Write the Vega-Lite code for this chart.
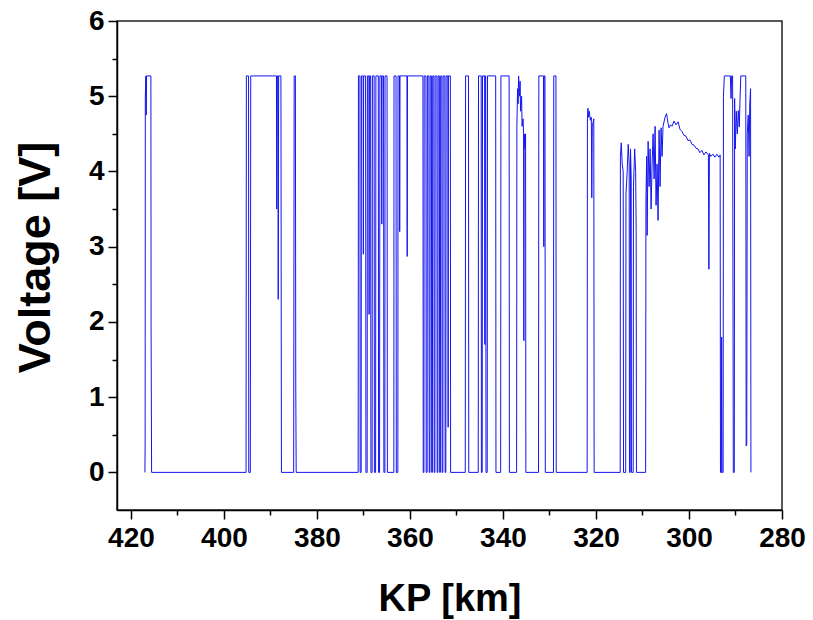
{
  "$schema": "https://vega.github.io/schema/vega-lite/v6.json",
  "width": 665,
  "height": 489,
  "autosize": {"type": "none"},
  "padding": {"left": 117, "top": 21, "right": 31, "bottom": 110},
  "background": "white",
  "view": {"stroke": "#222222", "strokeWidth": 1.5},
  "data": {"values": [
    {"i":1,"kp":417.00,"v":0},{"i":2,"kp":416.95,"v":0.35},{"i":3,"kp":416.91,"v":5.0},{"i":4,"kp":416.78,"v":5.27},{"i":5,"kp":416.72,"v":4.75},{"i":6,"kp":416.65,"v":5.27},{"i":7,"kp":415.71,"v":5.27},{"i":8,"kp":415.67,"v":1.93},{"i":9,"kp":415.56,"v":0},
    {"i":10,"kp":395.25,"v":0},{"i":11,"kp":395.18,"v":5.27},{"i":12,"kp":394.71,"v":5.27},{"i":13,"kp":394.67,"v":0},{"i":14,"kp":394.33,"v":0},{"i":15,"kp":394.24,"v":5.27},{"i":16,"kp":388.71,"v":5.27},{"i":17,"kp":388.65,"v":3.5},{"i":18,"kp":388.54,"v":5.27},{"i":19,"kp":388.39,"v":5.27},{"i":20,"kp":388.33,"v":2.3},{"i":21,"kp":388.24,"v":5.27},{"i":22,"kp":387.75,"v":5.27},{"i":23,"kp":387.64,"v":0},
    {"i":24,"kp":385.01,"v":0},{"i":25,"kp":384.90,"v":5.27},{"i":26,"kp":384.64,"v":5.27},{"i":27,"kp":384.56,"v":1.2},{"i":28,"kp":384.47,"v":0},
    {"i":29,"kp":371.14,"v":0},{"i":30,"kp":371.08,"v":5.27},{"i":31,"kp":370.76,"v":5.27},{"i":32,"kp":370.71,"v":0},{"i":33,"kp":370.50,"v":0},{"i":34,"kp":370.44,"v":5.27},{"i":35,"kp":370.07,"v":5.27},{"i":36,"kp":370.03,"v":2.9},{"i":37,"kp":369.96,"v":5.27},{"i":38,"kp":369.54,"v":5.27},{"i":39,"kp":369.47,"v":0},{"i":40,"kp":369.21,"v":0},{"i":41,"kp":369.15,"v":5.27},{"i":42,"kp":368.83,"v":5.27},{"i":43,"kp":368.79,"v":2.1},{"i":44,"kp":368.72,"v":5.27},{"i":45,"kp":368.46,"v":5.27},{"i":46,"kp":368.40,"v":0},{"i":47,"kp":368.14,"v":0},{"i":48,"kp":368.08,"v":5.27},{"i":49,"kp":367.71,"v":5.27},{"i":50,"kp":367.65,"v":0},{"i":51,"kp":367.39,"v":0},{"i":52,"kp":367.33,"v":5.27},{"i":53,"kp":366.81,"v":5.27},{"i":54,"kp":366.75,"v":0},{"i":55,"kp":366.54,"v":0},{"i":56,"kp":366.47,"v":5.27},{"i":57,"kp":366.11,"v":5.27},{"i":58,"kp":366.06,"v":3.3},{"i":59,"kp":366.00,"v":5.27},{"i":60,"kp":365.68,"v":5.27},{"i":61,"kp":365.61,"v":0},{"i":62,"kp":365.40,"v":0},{"i":63,"kp":365.36,"v":5.27},{"i":64,"kp":364.93,"v":5.27},{"i":65,"kp":364.86,"v":0},
    {"i":66,"kp":363.47,"v":0},{"i":67,"kp":363.43,"v":5.27},{"i":68,"kp":363.00,"v":5.27},{"i":69,"kp":362.94,"v":0},{"i":70,"kp":362.61,"v":0},{"i":71,"kp":362.57,"v":5.27},{"i":72,"kp":362.25,"v":5.27},{"i":73,"kp":362.21,"v":3.2},{"i":74,"kp":362.14,"v":5.27},{"i":75,"kp":360.64,"v":5.27},{"i":76,"kp":360.60,"v":2.87},{"i":77,"kp":360.54,"v":5.27},{"i":78,"kp":357.21,"v":5.27},{"i":79,"kp":357.15,"v":0},{"i":80,"kp":357.00,"v":0},
    {"i":81,"kp":356.94,"v":5.27},{"i":82,"kp":356.57,"v":5.27},{"i":83,"kp":356.51,"v":0},{"i":84,"kp":356.31,"v":0},{"i":85,"kp":356.25,"v":5.27},{"i":86,"kp":355.93,"v":5.27},{"i":87,"kp":355.86,"v":0},{"i":88,"kp":355.71,"v":0},{"i":89,"kp":355.65,"v":5.27},{"i":90,"kp":355.39,"v":5.27},{"i":91,"kp":355.33,"v":0},{"i":92,"kp":355.18,"v":0},{"i":93,"kp":355.11,"v":5.27},{"i":94,"kp":354.86,"v":5.27},{"i":95,"kp":354.79,"v":0},{"i":96,"kp":354.64,"v":0},{"i":97,"kp":354.58,"v":5.27},{"i":98,"kp":354.21,"v":5.27},{"i":99,"kp":354.15,"v":0},{"i":100,"kp":354.00,"v":0},{"i":101,"kp":353.94,"v":5.27},{"i":102,"kp":353.68,"v":5.27},{"i":103,"kp":353.61,"v":0},{"i":104,"kp":353.46,"v":0},{"i":105,"kp":353.40,"v":5.27},{"i":106,"kp":353.14,"v":5.27},{"i":107,"kp":353.08,"v":0},{"i":108,"kp":352.93,"v":0},{"i":109,"kp":352.86,"v":5.27},{"i":110,"kp":352.50,"v":5.27},{"i":111,"kp":352.44,"v":0},{"i":112,"kp":352.29,"v":0},{"i":113,"kp":352.22,"v":5.27},{"i":114,"kp":351.86,"v":5.27},{"i":115,"kp":351.79,"v":0.6},{"i":116,"kp":351.73,"v":5.27},{"i":117,"kp":351.32,"v":5.27},{"i":118,"kp":351.26,"v":0},
    {"i":119,"kp":348.11,"v":0},{"i":120,"kp":348.04,"v":5.27},{"i":121,"kp":347.42,"v":5.27},{"i":122,"kp":347.36,"v":0},{"i":123,"kp":345.32,"v":0},{"i":124,"kp":345.26,"v":5.27},{"i":125,"kp":344.68,"v":5.27},{"i":126,"kp":344.64,"v":0},{"i":127,"kp":344.47,"v":0},{"i":128,"kp":344.40,"v":5.27},{"i":129,"kp":343.93,"v":5.27},{"i":130,"kp":343.89,"v":1.7},{"i":131,"kp":343.82,"v":5.27},{"i":132,"kp":343.72,"v":5.27},{"i":133,"kp":343.65,"v":0},{"i":134,"kp":343.39,"v":0},{"i":135,"kp":343.33,"v":5.27},{"i":136,"kp":341.57,"v":5.27},{"i":137,"kp":341.51,"v":0},{"i":138,"kp":340.50,"v":0},{"i":139,"kp":340.44,"v":5.27},{"i":140,"kp":338.68,"v":5.27},{"i":141,"kp":338.62,"v":0},
    {"i":142,"kp":337.07,"v":0},{"i":143,"kp":337.01,"v":4.6},{"i":144,"kp":336.86,"v":5.1},{"i":145,"kp":336.75,"v":4.9},{"i":146,"kp":336.64,"v":5.27},{"i":147,"kp":336.43,"v":5.0},{"i":148,"kp":336.32,"v":5.2},{"i":149,"kp":336.22,"v":4.8},{"i":150,"kp":336.00,"v":5.0},{"i":151,"kp":335.89,"v":4.6},{"i":152,"kp":335.68,"v":4.7},{"i":153,"kp":335.57,"v":4.5},{"i":154,"kp":335.51,"v":1.75},{"i":155,"kp":335.44,"v":4.5},{"i":156,"kp":335.25,"v":4.3},{"i":157,"kp":335.14,"v":4.5},{"i":158,"kp":335.08,"v":0},
    {"i":159,"kp":332.36,"v":0},{"i":160,"kp":332.29,"v":5.27},{"i":161,"kp":331.29,"v":5.27},{"i":162,"kp":331.22,"v":3.0},{"i":163,"kp":331.16,"v":5.27},{"i":164,"kp":330.97,"v":5.27},{"i":165,"kp":330.90,"v":0},{"i":166,"kp":329.14,"v":0},{"i":167,"kp":329.08,"v":5.27},{"i":168,"kp":328.61,"v":5.27},{"i":169,"kp":328.55,"v":0},
    {"i":170,"kp":321.90,"v":0},{"i":171,"kp":321.84,"v":4.7},{"i":172,"kp":321.73,"v":4.84},{"i":173,"kp":321.60,"v":4.72},{"i":174,"kp":321.43,"v":4.8},{"i":175,"kp":321.22,"v":4.68},{"i":176,"kp":321.00,"v":4.72},{"i":177,"kp":320.90,"v":3.65},{"i":178,"kp":320.79,"v":4.6},{"i":179,"kp":320.47,"v":4.7},{"i":180,"kp":320.40,"v":0},
    {"i":181,"kp":314.79,"v":0},{"i":182,"kp":314.75,"v":4.2},{"i":183,"kp":314.57,"v":4.38},{"i":184,"kp":314.36,"v":4.1},{"i":185,"kp":314.15,"v":4.0},{"i":186,"kp":314.08,"v":0},{"i":187,"kp":313.61,"v":0},{"i":188,"kp":313.55,"v":3.7},{"i":189,"kp":313.29,"v":4.0},{"i":190,"kp":313.07,"v":4.36},{"i":191,"kp":312.86,"v":4.1},{"i":192,"kp":312.80,"v":0},{"i":193,"kp":312.65,"v":0},{"i":194,"kp":312.58,"v":4.3},{"i":195,"kp":312.43,"v":3.9},{"i":196,"kp":312.37,"v":0},{"i":197,"kp":312.00,"v":0},{"i":198,"kp":311.94,"v":3.8},{"i":199,"kp":311.68,"v":4.3},{"i":200,"kp":311.47,"v":4.0},{"i":201,"kp":311.36,"v":3.2},{"i":202,"kp":311.30,"v":0},
    {"i":203,"kp":309.32,"v":0},{"i":204,"kp":309.26,"v":3.6},{"i":205,"kp":309.11,"v":4.2},{"i":206,"kp":309.00,"v":3.15},{"i":207,"kp":308.79,"v":4.4},{"i":208,"kp":308.58,"v":3.8},{"i":209,"kp":308.36,"v":4.3},{"i":210,"kp":308.15,"v":3.5},{"i":211,"kp":307.93,"v":4.1},{"i":212,"kp":307.72,"v":4.5},{"i":213,"kp":307.50,"v":3.9},{"i":214,"kp":307.29,"v":4.6},{"i":215,"kp":307.08,"v":3.55},{"i":216,"kp":306.86,"v":4.1},{"i":217,"kp":306.65,"v":3.35},{"i":218,"kp":306.43,"v":4.55},{"i":219,"kp":306.22,"v":3.8},{"i":220,"kp":306.00,"v":4.58},{"i":221,"kp":305.79,"v":4.2},{"i":222,"kp":305.58,"v":4.6},{"i":223,"kp":305.15,"v":4.72},{"i":224,"kp":304.83,"v":4.77},{"i":225,"kp":304.50,"v":4.64},{"i":226,"kp":304.29,"v":4.58},{"i":227,"kp":303.97,"v":4.62},{"i":228,"kp":303.65,"v":4.6},{"i":229,"kp":303.22,"v":4.67},{"i":230,"kp":302.79,"v":4.62},{"i":231,"kp":302.36,"v":4.66},{"i":232,"kp":301.93,"v":4.56},{"i":233,"kp":301.50,"v":4.53},{"i":234,"kp":301.08,"v":4.48},{"i":235,"kp":300.65,"v":4.47},{"i":236,"kp":300.22,"v":4.41},{"i":237,"kp":299.79,"v":4.42},{"i":238,"kp":299.36,"v":4.36},{"i":239,"kp":298.93,"v":4.35},{"i":240,"kp":298.50,"v":4.31},{"i":241,"kp":298.08,"v":4.3},{"i":242,"kp":297.65,"v":4.25},{"i":243,"kp":297.22,"v":4.28},{"i":244,"kp":296.79,"v":4.22},{"i":245,"kp":296.36,"v":4.26},{"i":246,"kp":295.83,"v":4.22},{"i":247,"kp":295.72,"v":2.7},{"i":248,"kp":295.61,"v":4.24},{"i":249,"kp":295.29,"v":4.2},{"i":250,"kp":294.86,"v":4.23},{"i":251,"kp":294.43,"v":4.19},{"i":252,"kp":294.00,"v":4.23},{"i":253,"kp":293.58,"v":4.19},{"i":254,"kp":293.30,"v":4.22},{"i":255,"kp":293.23,"v":0},
    {"i":256,"kp":293.04,"v":0},{"i":257,"kp":292.98,"v":1.8},{"i":258,"kp":292.89,"v":0},{"i":259,"kp":292.66,"v":0},{"i":260,"kp":292.59,"v":5.0},{"i":261,"kp":292.40,"v":5.27},{"i":262,"kp":291.11,"v":5.27},{"i":263,"kp":290.96,"v":4.97},{"i":264,"kp":290.83,"v":5.27},{"i":265,"kp":290.62,"v":5.27},{"i":266,"kp":290.47,"v":0},{"i":267,"kp":290.26,"v":0},{"i":268,"kp":290.19,"v":4.97},{"i":269,"kp":290.04,"v":4.3},{"i":270,"kp":289.83,"v":4.8},{"i":271,"kp":289.61,"v":4.5},{"i":272,"kp":289.40,"v":4.81},{"i":273,"kp":289.18,"v":4.59},{"i":274,"kp":289.01,"v":5.0},{"i":275,"kp":288.86,"v":5.27},{"i":276,"kp":287.79,"v":5.27},{"i":277,"kp":287.71,"v":0.35},{"i":278,"kp":287.58,"v":0.37},{"i":279,"kp":287.47,"v":4.5},{"i":280,"kp":287.26,"v":4.75},{"i":281,"kp":287.08,"v":4.2},{"i":282,"kp":286.93,"v":4.9},{"i":283,"kp":286.76,"v":5.1},{"i":284,"kp":286.68,"v":0}
  ]},
  "mark": {"type": "line", "color": "#1414f0", "strokeWidth": 1, "clip": true},
  "encoding": {
    "x": {
      "field": "kp", "type": "quantitative",
      "scale": {"domain": [423, 280], "nice": false, "zero": false},
      "axis": {
        "title": "KP [km]",
        "values": [280,290,300,310,320,330,340,350,360,370,380,390,400,410,420],
        "labelExpr": "datum.value % 20 === 0 ? format(datum.value, 'd') : ''",
        "grid": false,
        "domainColor": "#000000", "domainWidth": 1.5,
        "tickColor": "#000000", "tickWidth": 1.5,
        "tickSize": {"condition": {"test": "datum.value % 20 === 0", "value": 9}, "value": 5},
        "labelFont": "Liberation Sans", "labelFontWeight": "bold", "labelFontSize": 28, "labelColor": "#000000",
        "labelPadding": 5, "labelFlush": false, "labelOverlap": false, "labelBound": false,
        "titleFont": "Liberation Sans", "titleFontWeight": "bold", "titleFontSize": 38, "titleColor": "#000000",
        "titleX": 332.5, "titleY": 100, "titleAlign": "center", "titleBaseline": "alphabetic", "titleAnchor": null
      }
    },
    "y": {
      "field": "v", "type": "quantitative",
      "scale": {"domain": [-0.5, 6], "nice": false, "zero": false},
      "axis": {
        "title": "Voltage [V]",
        "values": [0,0.5,1,1.5,2,2.5,3,3.5,4,4.5,5,5.5,6],
        "labelExpr": "datum.value % 1 === 0 ? format(datum.value, 'd') : ''",
        "grid": false,
        "domainColor": "#000000", "domainWidth": 1.5,
        "tickColor": "#000000", "tickWidth": 1.5,
        "tickSize": {"condition": {"test": "datum.value % 1 === 0", "value": 9}, "value": 5},
        "labelFont": "Liberation Sans", "labelFontWeight": "bold", "labelFontSize": 28, "labelColor": "#000000",
        "labelPadding": 4, "labelFlush": false, "labelOverlap": false, "labelBound": false,
        "titleFont": "Liberation Sans", "titleFontWeight": "bold", "titleFontSize": 45, "titleColor": "#000000",
        "titleX": -68, "titleY": 236, "titleAngle": 270, "titleAlign": "center", "titleBaseline": "alphabetic", "titleAnchor": null
      }
    },
    "order": {"field": "i", "type": "quantitative"}
  }
}
